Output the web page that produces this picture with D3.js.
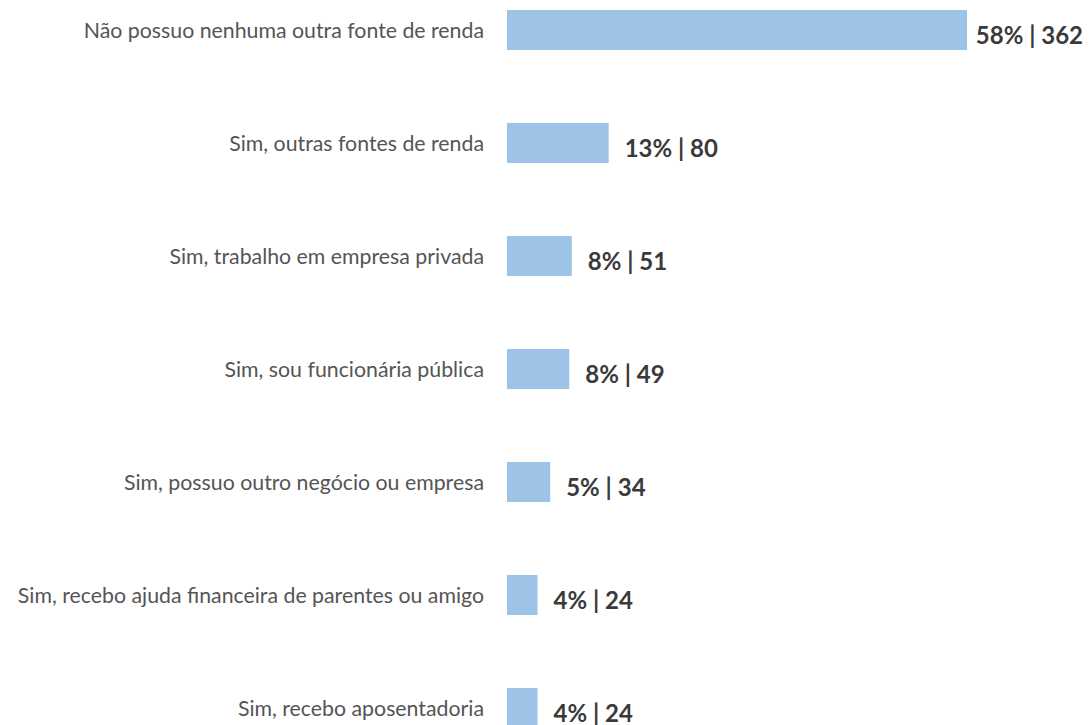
<!DOCTYPE html>
<html>
<head>
<meta charset="utf-8">
<script src="https://cdn.jsdelivr.net/npm/d3@7"></script>
<style>
  body { margin: 0; background: #fff; }
  svg { display: block; }
</style>
</head>
<body>
<svg id="chart" width="1090" height="725"></svg>
<script>
const categories = [
  "Não possuo nenhuma outra fonte de renda",
  "Sim, outras fontes de renda",
  "Sim, trabalho em empresa privada",
  "Sim, sou funcionária pública",
  "Sim, possuo outro negócio ou empresa",
  "Sim, recebo ajuda financeira de parentes ou amigo",
  "Sim, recebo aposentadoria"
];
const counts = [362, 80, 51, 49, 34, 24, 24];
const percents = ["58%", "13%", "8%", "8%", "5%", "4%", "4%"];

const svg = d3.select("#chart");

const x = d3.scaleLinear().domain([0, 362]).range([507, 967]);
const y = d3.scaleBand()
    .domain(categories)
    .range([10, 728])
    .paddingInner(73 / 113)
    .paddingOuter(0);

const rows = svg.selectAll(".row")
    .data(categories)
  .enter().append("g")
    .attr("class", "row");

rows.append("rect")
    .attr("x", x(0))
    .attr("y", function(d) { return y(d); })
    .attr("width", function(d, i) { return x(counts[i]) - x(0); })
    .attr("height", y.bandwidth())
    .style("fill", "#9DC3E6");

rows.append("text")
    .attr("x", 484)
    .attr("y", function(d) { return y(d) + y.bandwidth() / 2 + 8; })
    .attr("text-anchor", "end")
    .style("font", "21.3px Lato, sans-serif")
    .style("fill", "#555")
    .text(function(d) { return d; });

rows.append("text")
    .attr("class", "value")
    .attr("y", function(d) { return y(d) + y.bandwidth() / 2 + 14; })
    .style("font", "bold 24px Lato, sans-serif")
    .style("fill", "#3a3a3a")
    .text(function(d, i) { return percents[i] + " | " + counts[i]; })
    .attr("x", function(d, i) {
      const w = this.getComputedTextLength();
      return Math.min(x(counts[i]) + 16, 1083 - w);
    });
</script>
</body>
</html>
